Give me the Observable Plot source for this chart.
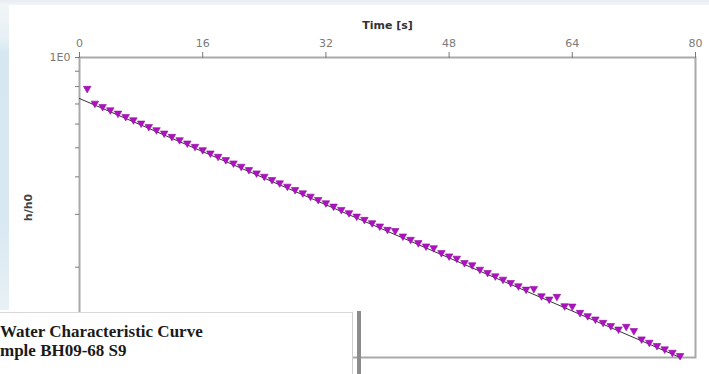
<!DOCTYPE html>
<html>
<head>
<meta charset="utf-8">
<script src="https://cdn.jsdelivr.net/npm/d3@7"></script>
<script src="https://cdn.jsdelivr.net/npm/@observablehq/plot@0.6"></script>
<style>
  body { margin: 0; background: #fff; }
  #page { position: relative; width: 709px; height: 374px; overflow: hidden; background: #fff; }
  #topband { position: absolute; left: 0; top: 0; width: 709px; height: 5px; background: linear-gradient(#e8edf3, #f2f5f8); }
  #sideband { position: absolute; left: 0; top: 5px; width: 9px; height: 305px;
    background: linear-gradient(#f1f5f8 0%, #e9f1f6 10%, #d6e7f0 16%, #d8e8f1 70%, #e8f1f5 100%); }
  #chart { position: absolute; left: 0; top: 0; }
  #note { position: absolute; left: 0; top: 312px; width: 353px; height: 62px; background: #fff;
    border-top: 1px solid #d9d9d9; border-right: 1px solid #cfcfcf; overflow: hidden;
    font-family: "Liberation Serif", "Times New Roman", serif; font-weight: bold; font-size: 17px;
    color: #1a1a1a; line-height: 19px; padding-top: 9px; box-sizing: border-box; white-space: nowrap; }
  #noteEdge { position: absolute; left: 357px; top: 311px; width: 4px; height: 63px; background: #8c8c8c; }
</style>
</head>
<body>
<div id="page">
  <div id="topband"></div>
  <div id="sideband"></div>
  <div id="chart"></div>
  <div id="note"></div>
  <div id="noteEdge"></div>
</div>
<script>
// Slug test record: normalised head h/h0 against elapsed time
const times = [1, 2, 3, 4, 5, 6, 7, 8, 9, 10, 11, 12, 13, 14, 15, 16, 17, 18, 19, 20,
  21, 22, 23, 24, 25, 26, 27, 28, 29, 30, 31, 32, 33, 34, 35, 36, 37, 38, 39, 40,
  41, 42, 43, 44, 45, 46, 47, 48, 49, 50, 51, 52, 53, 54, 55, 56, 57, 58, 59, 60,
  61, 62, 63, 64, 65, 66, 67, 68, 69, 70, 71, 72, 73, 74, 75, 76, 77, 78];
const ratios = [0.788, 0.7035, 0.6858, 0.6685, 0.6517, 0.6353, 0.6193, 0.6037, 0.5885, 0.5737,
  0.5593, 0.5452, 0.5315, 0.5181, 0.5051, 0.4924, 0.4800, 0.4679, 0.4561, 0.4446,
  0.4334, 0.4225, 0.4119, 0.4015, 0.3914, 0.3816, 0.3720, 0.3626, 0.3535, 0.3446,
  0.3359, 0.3275, 0.3192, 0.3112, 0.3034, 0.2957, 0.2883, 0.2810, 0.2740, 0.2671,
  0.2646, 0.2538, 0.2474, 0.2412, 0.2351, 0.2320, 0.2234, 0.2178, 0.2140, 0.2070,
  0.2035, 0.1967, 0.1918, 0.1869, 0.1822, 0.1776, 0.1732, 0.1688, 0.1697, 0.1604,
  0.1564, 0.1597, 0.1486, 0.1482, 0.1412, 0.1377, 0.1342, 0.1308, 0.1276, 0.1243,
  0.1269, 0.1228, 0.1152, 0.1123, 0.1095, 0.1067, 0.1040, 0.1014];

// Straight-line fit on the semi-log axes
const fitTimes = [0, 78];
const fitRatios = [0.73, 0.1];

const xTicks = [0, 16, 32, 48, 64, 80];
const yMajorTicks = [1];
const yMajorLabels = ["1E0"];
const yMinorTicks = [0.9, 0.8, 0.7, 0.6, 0.5, 0.4, 0.3, 0.2];
const xLabel = "Time [s]";
const yLabel = "h/h0";
const noteLines = ["Water Characteristic Curve", "mple BH09-68 S9"];

const points = times.map((t, i) => ({t, h: ratios[i]}));
const fit = fitTimes.map((t, i) => ({t, h: fitRatios[i]}));
const yLabelFor = d => {
  const k = yMajorTicks.indexOf(d);
  return k < 0 ? "" : yMajorLabels[k];
};

const chart = Plot.plot({
  width: 709,
  height: 374,
  marginLeft: 79,
  marginRight: 14,
  marginTop: 57,
  marginBottom: 17,
  style: {background: "transparent", fontFamily: "DejaVu Sans", fontSize: "11px", color: "#7a7a7a", overflow: "visible"},
  x: {domain: [0, 80]},
  y: {type: "log", domain: [0.1, 1]},
  marks: [
    Plot.frame({stroke: "#a9a9a9", strokeWidth: 2}),
    Plot.axisX({anchor: "top", ticks: xTicks, tickSize: 6, tickPadding: 5, tickFormat: d => String(d), label: null}),
    Plot.axisY({anchor: "left", ticks: yMinorTicks, tickSize: 4, tickFormat: () => "", label: null}),
    Plot.axisY({anchor: "left", ticks: yMajorTicks, tickSize: 4, tickPadding: 5, tickFormat: yLabelFor, label: null}),
    Plot.line(fit, {x: "t", y: "h", stroke: "#333", strokeWidth: 1}),
    Plot.dot(points, {x: "t", y: "h", symbol: "triangle", rotate: 180, r: 2.8, fill: "#b010c4", stroke: "#8e0c9c", strokeWidth: 0.6}),
    Plot.text([xLabel], {text: d => d, frameAnchor: "top", dy: -32, lineAnchor: "middle", fontWeight: "bold", fill: "#333", fontSize: 11}),
    Plot.text([yLabel], {text: d => d, frameAnchor: "left", dx: -51, rotate: -90, textAnchor: "middle", lineAnchor: "middle", fontWeight: "bold", fill: "#444", fontSize: 11})
  ]
});
document.getElementById("chart").appendChild(chart);

const note = document.getElementById("note");
noteLines.forEach(line => {
  const div = document.createElement("div");
  div.textContent = line;
  note.appendChild(div);
});
</script>
</body>
</html>
